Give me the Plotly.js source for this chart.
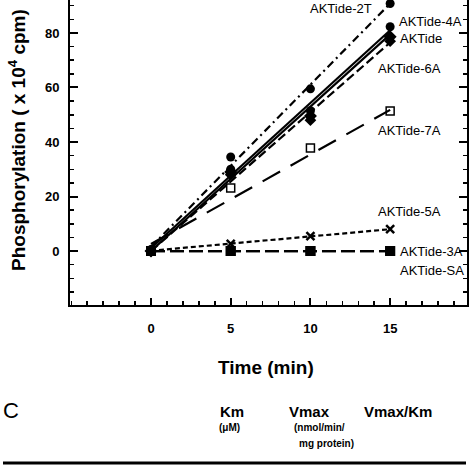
<!DOCTYPE html>
<html>
<head>
<meta charset="utf-8">
<script src="https://cdn.plot.ly/plotly-3.0.1.min.js"></script>
<style>html,body{margin:0;padding:0;background:#fff;}#chart{width:474px;height:474px;}</style>
</head>
<body>
<div id="chart"></div>
<script>
// ---- data ----
const timeMin = [0, 5, 10, 15];
const seriesNames = ['AKTide-2T', 'AKTide-4A', 'AKTide', 'AKTide-6A', 'AKTide-7A', 'AKTide-5A', 'AKTide-3A', 'AKTide-SA'];
const valAKTide2T = [0.5, 34.5, 59.5, 90.8];
const valAKTide4A = [0.5, 30.0, 51.5, 82.3];
const valAKTide   = [0.0, 29.0, 49.5, 78.6];
const valAKTide6A = [0.0, 28.0, 48.0, 77.0];
const valAKTide7A = [0.0, 23.1, 37.8, 51.4];
const valAKTide5A = [0.0, 2.6, 5.5, 8.0];
const valAKTide3A = [0.0, 0.0, 0.0, 0.0];
const valAKTideSA = [0.0, 0.0, 0.0, 0.0];
// fitted line values at first and last time point
const fitStart = [1.5, 1.0, 0.0, 0.0, 2.6, 0.1, 0.0, 0.0];
const fitEnd   = [90.8, 81.0, 79.5, 76.5, 51.8, 8.0, 0.0, 0.0];
const yTickVals = [0, 20, 40, 60, 80];
const xTickVals = [0, 5, 10, 15];
const seriesValues = [valAKTide2T, valAKTide4A, valAKTide, valAKTide6A, valAKTide7A, valAKTide5A, valAKTide3A, valAKTideSA];

// ---- styles ----
const styles = [
  {sym: 'circle', size: 9, lw: 0, dash: '8px,4px,2px,4px'},
  {sym: 'circle', size: 9, lw: 0, dash: 'solid'},
  {sym: 'diamond', size: 10, lw: 0, dash: 'solid'},
  {sym: 'diamond', size: 9, lw: 0, dash: '9px,4px'},
  {sym: 'square-open', size: 8, lw: 1.5, dash: '20px,12px'},
  {sym: 'x-thin-open', size: 8, lw: 2.5, dash: '5px,3px'},
  {sym: 'square', size: 10, lw: 0, dash: '14px,5px'},
  {sym: 'square', size: 10, lw: 0, dash: '14px,5px'}
];

const traces = [];
seriesValues.forEach((vals, i) => {
  const st = styles[i];
  traces.push({
    x: [timeMin[0], timeMin[timeMin.length - 1]],
    y: [fitStart[i], fitEnd[i]],
    mode: 'lines', name: seriesNames[i] + ' fit', showlegend: false, hoverinfo: 'skip',
    line: {color: '#000', width: 2.2, dash: st.dash}
  });
});
seriesValues.forEach((vals, i) => {
  const st = styles[i];
  traces.push({
    x: timeMin, y: vals, mode: 'markers', name: seriesNames[i], showlegend: false,
    marker: {symbol: st.sym, size: st.size, color: '#000', line: {color: '#000', width: st.lw}}
  });
});

// ---- pixel helpers for placement ----
const L = 70, R = 467, T = 0, B = 305;
const px = x => (x - L) / (R - L);
const py = y => (B - y) / (B - T);
const FONT = 'Liberation Sans, Arial, Helvetica, sans-serif';

const labelPos = [
  [308, 9], [397, 21], [398, 38], [376, 68], [376, 130], [376, 211], [398, 251], [398, 270]
];
const annotations = seriesNames.map((n, i) => ({
  text: n, xref: 'paper', yref: 'paper', x: px(labelPos[i][0]), y: py(labelPos[i][1]),
  xanchor: 'left', yanchor: 'middle', showarrow: false,
  font: {family: FONT, size: 13, color: '#000'}
}));
const txt = (text, x, y, size, weight, anchor) => ({
  text, xref: 'paper', yref: 'paper', x: px(x), y: py(y), xanchor: anchor || 'center', yanchor: 'middle',
  showarrow: false, font: {family: FONT, size, color: '#000', weight: weight || 'normal'}
});
annotations.push(Object.assign(txt('Phosphorylation ( x 10<sup>4</sup> cpm)', 17, 140, 19, 'bold'), {textangle: -90}));
annotations.push(txt('Time (min)', 266, 367, 19, 'bold'));
annotations.push(txt('C', 11, 410, 22, 'normal'));
annotations.push(txt('Km', 231.5, 411, 15, 'bold'));
annotations.push(txt('Vmax', 309, 411, 15, 'bold'));
annotations.push(txt('Vmax/Km', 397.5, 411, 15, 'bold'));
annotations.push(txt('(μM)', 229.5, 428, 10, 'bold'));
annotations.push(txt('(nmol/min/', 319.5, 428, 10, 'bold'));
annotations.push(txt('mg protein)', 326, 443, 10, 'bold'));

const layout = {
  width: 474, height: 474, autosize: false,
  margin: {l: L, r: 474 - R, t: T, b: 474 - B, pad: 0},
  paper_bgcolor: '#fff', plot_bgcolor: '#fff',
  showlegend: false,
  xaxis: {
    range: [-5.08, 19.82], showgrid: false, zeroline: false,
    showline: true, linecolor: '#000', linewidth: 2, mirror: false,
    ticks: 'inside', ticklen: 7, tickwidth: 2, tickcolor: '#000',
    tickvals: xTickVals, ticklabelstandoff: 10,
    tickfont: {family: FONT, size: 13, color: '#000', weight: 'bold'},
    minor: {dtick: 1, tick0: 0, ticks: 'inside', ticklen: 4, tickwidth: 1.5, tickcolor: '#000', showgrid: false}
  },
  yaxis: {
    range: [-19.8, 92.1], showgrid: false, zeroline: false,
    showline: true, linecolor: '#000', linewidth: 2, mirror: 'ticks',
    ticks: 'inside', ticklen: 8, tickwidth: 2, tickcolor: '#000',
    tickvals: yTickVals, ticklabelstandoff: 6,
    tickfont: {family: FONT, size: 13, color: '#000', weight: 'bold'},
    minor: {dtick: 5, tick0: 0, ticks: 'inside', ticklen: 4, tickwidth: 1.5, tickcolor: '#000', showgrid: false}
  },
  annotations,
  shapes: [{type: 'line', xref: 'paper', yref: 'paper', x0: px(3), x1: px(466), y0: py(463), y1: py(463),
            line: {color: '#000', width: 3}}]
};

Plotly.newPlot('chart', traces, layout, {displayModeBar: false, staticPlot: true});
</script>
</body>
</html>
